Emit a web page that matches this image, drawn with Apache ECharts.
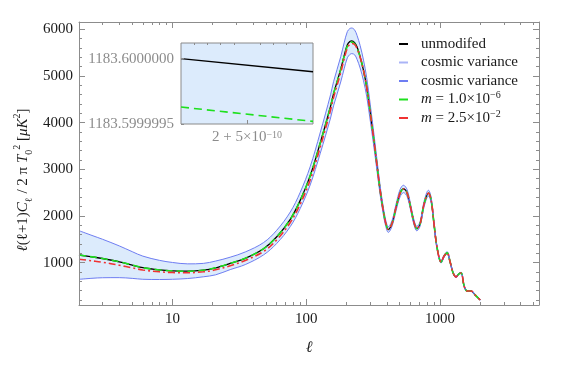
<!DOCTYPE html>
<html><head><meta charset="utf-8">
<script src="https://cdn.jsdelivr.net/npm/echarts@6/dist/echarts.min.js"></script>
<style>html,body{margin:0;padding:0;background:#fff}#c{width:584px;height:365px}</style>
</head><body><div id="c"></div>
<script>
// ---- data ----
const ell = [2, 2.5, 3, 4, 5, 6, 8, 10, 13, 17, 21, 27, 35, 48, 60, 76, 90, 107, 127, 152,
  160, 181, 192, 203, 212, 219, 230, 240, 253, 268, 283, 300, 318, 337, 357, 375, 392, 411, 439, 470,
  503, 533, 568, 609, 641, 671, 710, 761, 820, 859, 904, 952, 1020, 1074, 1131, 1191, 1254, 1320, 1379, 1439,
  1516, 1596, 1710, 1831, 2000];
const unmodified = [1165, 1125, 1090, 1020, 950, 893, 845, 825, 818, 840, 890, 985, 1094, 1300, 1550, 1930, 2330, 2860, 3556, 4349,
  4618, 5140, 5430, 5670, 5738, 5753, 5715, 5620, 5410, 5120, 4768, 4250, 3698, 3120, 2550, 2150, 1860, 1710, 1850, 2190,
  2490, 2580, 2490, 2130, 1850, 1730, 1830, 2260, 2490, 2340, 1810, 1315, 1015, 1143, 1210, 1015, 780, 694, 758, 780,
  500, 394, 394, 310, 200];
const cvUpper = [1686, 1584, 1502, 1360, 1236, 1141, 1050, 1005, 975, 985, 1035, 1118, 1230, 1432, 1691, 2086, 2503, 3055, 3779, 4598,
  4876, 5410, 5707, 5951, 6016, 6027, 5986, 5866, 5650, 5341, 4968, 4423, 3844, 3240, 2645, 2228, 1926, 1770, 1912, 2261,
  2568, 2659, 2564, 2191, 1902, 1777, 1879, 2318, 2551, 2396, 1853, 1345, 1037, 1168, 1235, 1036, 796, 708, 772, 795,
  509, 401, 401, 315, 203];
const cvLower = [644, 666, 678, 680, 664, 645, 640, 645, 661, 698, 740, 852, 960, 1168, 1409, 1774, 2157, 2665, 3333, 4100,
  4360, 4870, 5153, 5389, 5460, 5479, 5454, 5354, 5170, 4899, 4568, 4077, 3552, 3000, 2455, 2072, 1794, 1650, 1788, 2119,
  2412, 2501, 2416, 2069, 1798, 1683, 1781, 2202, 2429, 2284, 1767, 1285, 993, 1118, 1185, 994, 764, 680, 744, 765,
  491, 387, 387, 305, 197];
const mSmall = [1165, 1125, 1090, 1020, 950, 893, 845, 825, 818, 840, 890, 985, 1094, 1300, 1550, 1930, 2330, 2860, 3556, 4349,
  4618, 5140, 5415, 5640, 5712, 5725, 5690, 5595, 5410, 5120, 4768, 4250, 3698, 3120, 2550, 2150, 1860, 1710, 1850, 2190,
  2490, 2580, 2490, 2130, 1850, 1730, 1830, 2260, 2490, 2340, 1810, 1315, 1015, 1143, 1210, 1015, 780, 694, 758, 780,
  500, 394, 394, 310, 200];
const mLarge = [1075, 1040, 1010, 945, 890, 845, 805, 790, 785, 805, 848, 935, 1048, 1240, 1485, 1860, 2250, 2770, 3470, 4270,
  4540, 5070, 5370, 5600, 5680, 5697, 5675, 5585, 5400, 5120, 4768, 4250, 3698, 3120, 2550, 2150, 1860, 1710, 1850, 2190,
  2490, 2580, 2490, 2130, 1850, 1730, 1830, 2260, 2490, 2340, 1810, 1315, 1015, 1143, 1210, 1015, 780, 694, 758, 780,
  500, 394, 394, 310, 200];

// inset (zoom near ell = 2)
const insetEll = [2, 2.000000001];
const insetUnmodified = [1183.6000000, 1183.59999990];
const insetMSmall = [1183.59999963, 1183.59999952];
const insetYTicks = [1183.5999995, 1183.6000000];
const insetXTicks = [2.0000000005];
const insetXMinor = [2.0000000001, 2.0000000002, 2.0000000003, 2.0000000004, 2.0000000006, 2.0000000007, 2.0000000008, 2.0000000009];

// tick values
const xMajor = [10, 100, 1000];
const xMinor = [3, 4, 5, 6, 7, 8, 9, 20, 30, 40, 50, 60, 70, 80, 90, 200, 300, 400, 500, 600, 700, 800, 900, 2000, 3000, 4000, 5000];
const yMajor = [1000, 2000, 3000, 4000, 5000, 6000];
const yMinor = [200, 400, 600, 800, 1200, 1400, 1600, 1800, 2200, 2400, 2600, 2800, 3200, 3400, 3600, 3800, 4200, 4400, 4600, 4800, 5200, 5400, 5600, 5800];

const seriesNames = ['unmodifed', 'cosmic variance', 'cosmic variance ', 'm1', 'm2'];
const legendLabels = {
  'unmodifed': 'unmodifed',
  'cosmic variance': 'cosmic variance',
  'cosmic variance ': 'cosmic variance',
  'm1': '{i|m} = 1.0×10{sup|−6}',
  'm2': '{i|m} = 2.5×10{sup|−2}'
};

const FONT = 'Liberation Serif';
const AX = '#8c8c8c';
const BLUE = '#6e7df2';
const BAND = '#dcebfc';
const GREEN = '#1ee01e';
const RED = '#f03232';

const chart = echarts.init(document.getElementById('c'), null, {renderer: 'canvas'});
const pairs = (xs, ys) => xs.map((x, i) => [x, ys[i]]);
const SM = 0.35;
const line = (name, ys, color, width, type, z) => ({
  name, type: 'line', xAxisIndex: 0, yAxisIndex: 0, data: pairs(ell, ys), smooth: SM,
  symbol: 'none', color, lineStyle: {color, width, type}, itemStyle: {color}, z, silent: true
});

const yMin = 94, yMax = 6156;
const xMin = 2, xMax = 5500;
const tickBase = {show: true, inside: true, lineStyle: {color: AX, width: 1}};
const xAxes = [
  {gridIndex: 0, type: 'log', position: 'bottom', min: xMin, max: xMax, z: 10,
    axisLine: {show: true, lineStyle: {color: AX}},
    axisTick: Object.assign({}, tickBase, {length: 6, customValues: xMajor}),
    axisLabel: {customValues: xMajor, formatter: v => String(v), margin: 7, fontFamily: FONT, fontSize: 15, color: '#1a1a1a'},
    splitLine: {show: false},
    name: 'ℓ', nameLocation: 'middle', nameGap: 35,
    nameTextStyle: {fontFamily: FONT, fontSize: 16, fontStyle: 'italic', color: '#1a1a1a'}},
  {gridIndex: 0, type: 'log', position: 'bottom', min: xMin, max: xMax, z: 10,
    axisLine: {show: false}, axisTick: Object.assign({}, tickBase, {length: 3, customValues: xMinor}),
    axisLabel: {show: false}, splitLine: {show: false}},
  {gridIndex: 0, type: 'log', position: 'top', min: xMin, max: xMax, z: 10,
    axisLine: {show: true, lineStyle: {color: AX}},
    axisTick: Object.assign({}, tickBase, {length: 6, customValues: xMajor}),
    axisLabel: {show: false}, splitLine: {show: false}},
  {gridIndex: 0, type: 'log', position: 'top', min: xMin, max: xMax, z: 10,
    axisLine: {show: false}, axisTick: Object.assign({}, tickBase, {length: 3, customValues: xMinor}),
    axisLabel: {show: false}, splitLine: {show: false}},
  // inset
  {gridIndex: 1, type: 'value', position: 'bottom', min: insetEll[0], max: insetEll[1], z: 10,
    axisLine: {show: false},
    axisTick: Object.assign({}, tickBase, {length: 4, customValues: insetXTicks}),
    axisLabel: {customValues: insetXTicks, formatter: () => '2 + 5×10{sup|−10}', margin: 6,
      fontFamily: FONT, fontSize: 15, color: '#8c8c8c',
      rich: {sup: {fontFamily: FONT, fontSize: 10, color: '#8c8c8c', verticalAlign: 'top', lineHeight: 10}}},
    splitLine: {show: false}},
  {gridIndex: 1, type: 'value', position: 'top', min: insetEll[0], max: insetEll[1], z: 10,
    axisLine: {show: false},
    axisTick: Object.assign({}, tickBase, {length: 2, customValues: insetXMinor}),
    axisLabel: {show: false}, splitLine: {show: false}}
];
const yAxes = [
  {gridIndex: 0, type: 'value', position: 'left', min: yMin, max: yMax, z: 10,
    axisLine: {show: true, lineStyle: {color: AX}},
    axisTick: Object.assign({}, tickBase, {length: 6, customValues: yMajor}),
    axisLabel: {customValues: yMajor, formatter: v => String(v), margin: 6, fontFamily: FONT, fontSize: 15, color: '#1a1a1a'},
    splitLine: {show: false}},
  {gridIndex: 0, type: 'value', position: 'left', min: yMin, max: yMax, z: 10,
    axisLine: {show: false}, axisTick: Object.assign({}, tickBase, {length: 3, customValues: yMinor}),
    axisLabel: {show: false}, splitLine: {show: false}},
  {gridIndex: 0, type: 'value', position: 'right', min: yMin, max: yMax, z: 10,
    axisLine: {show: true, lineStyle: {color: AX}},
    axisTick: Object.assign({}, tickBase, {length: 6, customValues: yMajor}),
    axisLabel: {show: false}, splitLine: {show: false}},
  {gridIndex: 0, type: 'value', position: 'right', min: yMin, max: yMax, z: 10,
    axisLine: {show: false}, axisTick: Object.assign({}, tickBase, {length: 3, customValues: yMinor}),
    axisLabel: {show: false}, splitLine: {show: false}},
  // inset
  {gridIndex: 1, type: 'value', position: 'left', min: 1183.5999995, max: 1183.60000012, z: 10,
    axisLine: {show: false},
    axisTick: Object.assign({}, tickBase, {length: 3, customValues: insetYTicks}),
    axisLabel: {customValues: insetYTicks, formatter: v => v.toFixed(7), margin: 7,
      fontFamily: FONT, fontSize: 15, color: '#8c8c8c'},
    splitLine: {show: false}}
];

const option = {
  animation: false,
  backgroundColor: '#fff',
  grid: [
    {left: 79, top: 22, right: 45, bottom: 60, show: false},
    {left: 181, top: 43, width: 132, height: 81, show: true, backgroundColor: BAND, borderColor: '#8a8a8a', borderWidth: 1, z: 3}
  ],
  xAxis: xAxes,
  yAxis: yAxes,
  legend: {
    orient: 'vertical', left: 394, top: 30, itemWidth: 9, itemHeight: 2, itemGap: 0.5, icon: 'rect',
    selectedMode: false,
    data: [
      {name: seriesNames[0], itemStyle: {color: '#000'}},
      {name: seriesNames[1], itemStyle: {color: '#aab4f6'}},
      {name: seriesNames[2], itemStyle: {color: BLUE}},
      {name: seriesNames[3], itemStyle: {color: GREEN}},
      {name: seriesNames[4], itemStyle: {color: RED}}
    ],
    formatter: n => legendLabels[n],
    textStyle: {fontFamily: FONT, fontSize: 15, color: '#1a1a1a', lineHeight: 18, padding: [0, 0, 0, 8],
      rich: {
        i: {fontFamily: FONT, fontSize: 15, fontStyle: 'italic', color: '#1a1a1a', lineHeight: 18},
        sup: {fontFamily: FONT, fontSize: 10, color: '#1a1a1a', verticalAlign: 'top', lineHeight: 10}
      }}
  },
  graphic: [{
    type: 'text', x: 23, y: 180, rotation: Math.PI / 2, silent: true,
    style: {
      text: '{i|ℓ}(ℓ+1){i|C}{sub|ℓ} / 2 π {i|T}{sub|0}{sup|2} [{i|μK}{sup|2}]',
      align: 'center', verticalAlign: 'middle', fontFamily: FONT, fontSize: 15, fill: '#1a1a1a', lineHeight: 22,
      rich: {
        i: {fontFamily: FONT, fontSize: 15, fontStyle: 'italic', color: '#1a1a1a', lineHeight: 22},
        sub: {fontFamily: FONT, fontSize: 10, color: '#1a1a1a', verticalAlign: 'bottom', lineHeight: 10},
        sup: {fontFamily: FONT, fontSize: 10, color: '#1a1a1a', verticalAlign: 'top', lineHeight: 10}
      }
    }
  }],
  series: [
    // cosmic-variance band: upper area filled light blue, lower area masked white
    {name: '_bandTop', type: 'line', xAxisIndex: 0, yAxisIndex: 0, data: pairs(ell, cvUpper),
      smooth: SM, symbol: 'none', lineStyle: {width: 0, opacity: 0}, areaStyle: {color: BAND, opacity: 1}, silent: true, z: 1},
    {name: '_bandMask', type: 'line', xAxisIndex: 0, yAxisIndex: 0, data: pairs(ell, cvLower),
      smooth: SM, symbol: 'none', lineStyle: {width: 0, opacity: 0}, areaStyle: {color: '#ffffff', opacity: 1}, silent: true, z: 1},
    line(seriesNames[0], unmodified, '#000', 1.3, 'solid', 3),
    line(seriesNames[1], cvUpper, BLUE, 1, 'solid', 3),
    line(seriesNames[2], cvLower, BLUE, 1, 'solid', 3),
    line(seriesNames[3], mSmall, GREEN, 1.6, [7, 4], 4),
    line(seriesNames[4], mLarge, RED, 1.6, [7, 3, 2, 3], 5),
    {name: '_insetUnmod', type: 'line', xAxisIndex: 4, yAxisIndex: 4, data: pairs(insetEll, insetUnmodified),
      symbol: 'none', lineStyle: {color: '#000', width: 1.3}, silent: true, z: 6},
    {name: '_insetM', type: 'line', xAxisIndex: 4, yAxisIndex: 4, data: pairs(insetEll, insetMSmall),
      symbol: 'none', lineStyle: {color: GREEN, width: 1.6, type: [8, 5]}, silent: true, z: 6}
  ]
};
chart.setOption(option);
</script>
</body></html>
